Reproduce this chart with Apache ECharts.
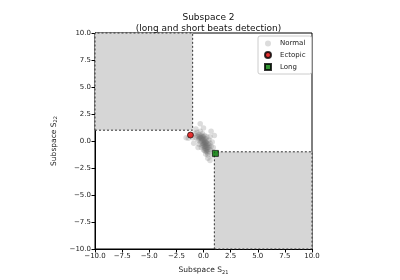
<!DOCTYPE html>
<html><head><meta charset="utf-8">
<script src="https://cdn.jsdelivr.net/npm/echarts@6/dist/echarts.min.js"></script>
<style>html,body{margin:0;padding:0;background:#fff}#c{width:400px;height:280px}</style>
</head><body><div id="c"></div>
<script>
var axisTicks = [-10, -7.5, -5, -2.5, 0, 2.5, 5, 7.5, 10];
var normalPoints = [
  [-0.6,0.5],[-0.5,0.4],[-0.4,0.6],[-0.3,0.3],[-0.2,0.5],[-0.4,0.2],[-0.1,0.2],[0.0,0.4],
  [-0.2,0.0],[0.0,0.1],[0.1,-0.1],[-0.1,-0.2],[0.2,0.2],[0.3,0.0],[0.1,-0.3],[0.2,-0.4],
  [0.0,-0.5],[0.3,-0.6],[0.4,-0.3],[0.2,-0.7],[0.4,-0.8],[0.3,-1.0],[0.5,-0.6],[0.1,-0.9],
  [0.5,-1.0],[0.6,-0.8],[0.2,-1.2],[0.4,-1.3],[-0.3,-0.1],[-0.5,0.1],[-0.7,0.3],[-0.8,0.7],
  [-0.6,0.8],[-0.3,0.9],[-0.1,0.7],[0.1,0.5],[0.3,0.4],[0.5,0.1],[0.6,-0.2],[0.7,-0.5],
  [-0.2,-0.6],[0.0,-0.8],[-0.4,-0.3],[0.6,0.4],[0.8,-0.1],
  [-0.1,0.1],[0.0,-0.1],[0.1,-0.2],[-0.2,0.2],[0.1,0.0],[0.2,-0.2],[0.0,-0.3],[0.1,-0.5],
  [0.2,-0.5],[0.3,-0.4],[0.3,-0.8],[0.2,-0.9],[0.4,-1.1],[-0.3,0.4],[-0.1,0.4],[-0.4,0.4],
  [0.2,-0.1],[0.3,-0.2],[-0.1,-0.4],[0.1,-0.7],[0.5,-0.4],[0.4,-0.6],[0.1,0.2],[-0.2,0.3],
  [-1.6,0.3],[-1.4,0.25],[-1.0,0.3],[-0.3,1.6],[0.0,1.2],[0.4,-1.6],[0.6,-1.8],[0.9,-0.6],
  [-0.9,-0.2],[1.0,0.5],[0.8,-1.4],[-0.7,1.1],[0.7,0.9],[-0.5,-0.6],[0.9,-1.0]
];
var ectopicPoints = [[-1.2, 0.55]];
var longPoints = [[1.1, -1.15]];
var shadedRegions = [[[-10, 1], [-1, 10]], [[1, -10], [10, -1]]];

var fmt = function (v) { return v.toFixed(1).replace('-', '\u2212'); };
var chart = echarts.init(document.getElementById('c'), null, {renderer: 'canvas'});
var axisCommon = {
  min: -10, max: 10, interval: 2.5,
  axisLine: {show: true, onZero: false, lineStyle: {color: '#000', width: 1}},
  axisTick: {show: true, length: 3.5, lineStyle: {color: '#000'}},
  axisLabel: {formatter: fmt, fontSize: 7, color: '#222', fontFamily: 'DejaVu Sans', margin: 4},
  splitLine: {show: false},
  nameLocation: 'middle',
  nameTextStyle: {fontSize: 7.5, color: '#222', fontFamily: 'DejaVu Sans'}
};
var nameRich = {rich: {a: {fontSize: 7.5, color: '#222', fontFamily: 'DejaVu Sans'}, s: {fontSize: 5, color: '#222', fontFamily: 'DejaVu Sans', verticalAlign: 'bottom', padding: [4, 0, 0, 0]}}};
chart.setOption({
  animation: false,
  backgroundColor: '#fff',
  title: {
    text: 'Subspace 2\n(long and short beats detection)',
    left: 203.5, textAlign: 'center', top: 7,
    textStyle: {fontSize: 9, fontWeight: 'normal', color: '#111', fontFamily: 'DejaVu Sans', lineHeight: 11}
  },
  grid: {left: 95, right: 88, top: 33, bottom: 31, show: true, borderColor: '#000', borderWidth: 1, backgroundColor: 'transparent'},
  legend: {
    orient: 'vertical', left: 258, top: 36, itemWidth: 6, itemHeight: 6, itemGap: 4,
    padding: [4, 6, 3, 6], borderColor: '#ccc', borderWidth: 1, borderRadius: 2,
    backgroundColor: '#fff',
    textStyle: {fontSize: 7, color: '#222', fontFamily: 'DejaVu Sans', padding: [0, 0, 0, 4]},
    data: ['Normal', 'Ectopic', 'Long']
  },
  xAxis: Object.assign({}, axisCommon, {type: 'value', nameGap: 17, name: '{a|Subspace S}{s|21}', nameTextStyle: nameRich}),
  yAxis: Object.assign({}, axisCommon, {type: 'value', nameGap: 24, name: '{a|Subspace S}{s|22}', nameTextStyle: nameRich}),
  series: [
    {
      name: 'Normal', type: 'scatter', data: normalPoints, symbolSize: 5.5, z: 3,
      itemStyle: {color: 'rgba(110,110,110,0.3)'},
      markArea: {
        silent: true,
        itemStyle: {color: '#d6d6d6', borderColor: '#333', borderType: [2, 2], borderWidth: 1},
        data: shadedRegions.map(function (r) { return [{coord: r[0]}, {coord: r[1]}]; })
      }
    },
    {
      name: 'Ectopic', type: 'scatter', data: ectopicPoints, symbol: 'circle', symbolSize: 6, z: 5,
      itemStyle: {color: '#e00000', borderColor: '#000', borderWidth: 0.8}
    },
    {
      name: 'Long', type: 'scatter', data: longPoints, symbol: 'rect', symbolSize: 6, z: 5,
      itemStyle: {color: '#007a00', borderColor: '#000', borderWidth: 0.8}
    }
  ]
});
</script></body></html>
